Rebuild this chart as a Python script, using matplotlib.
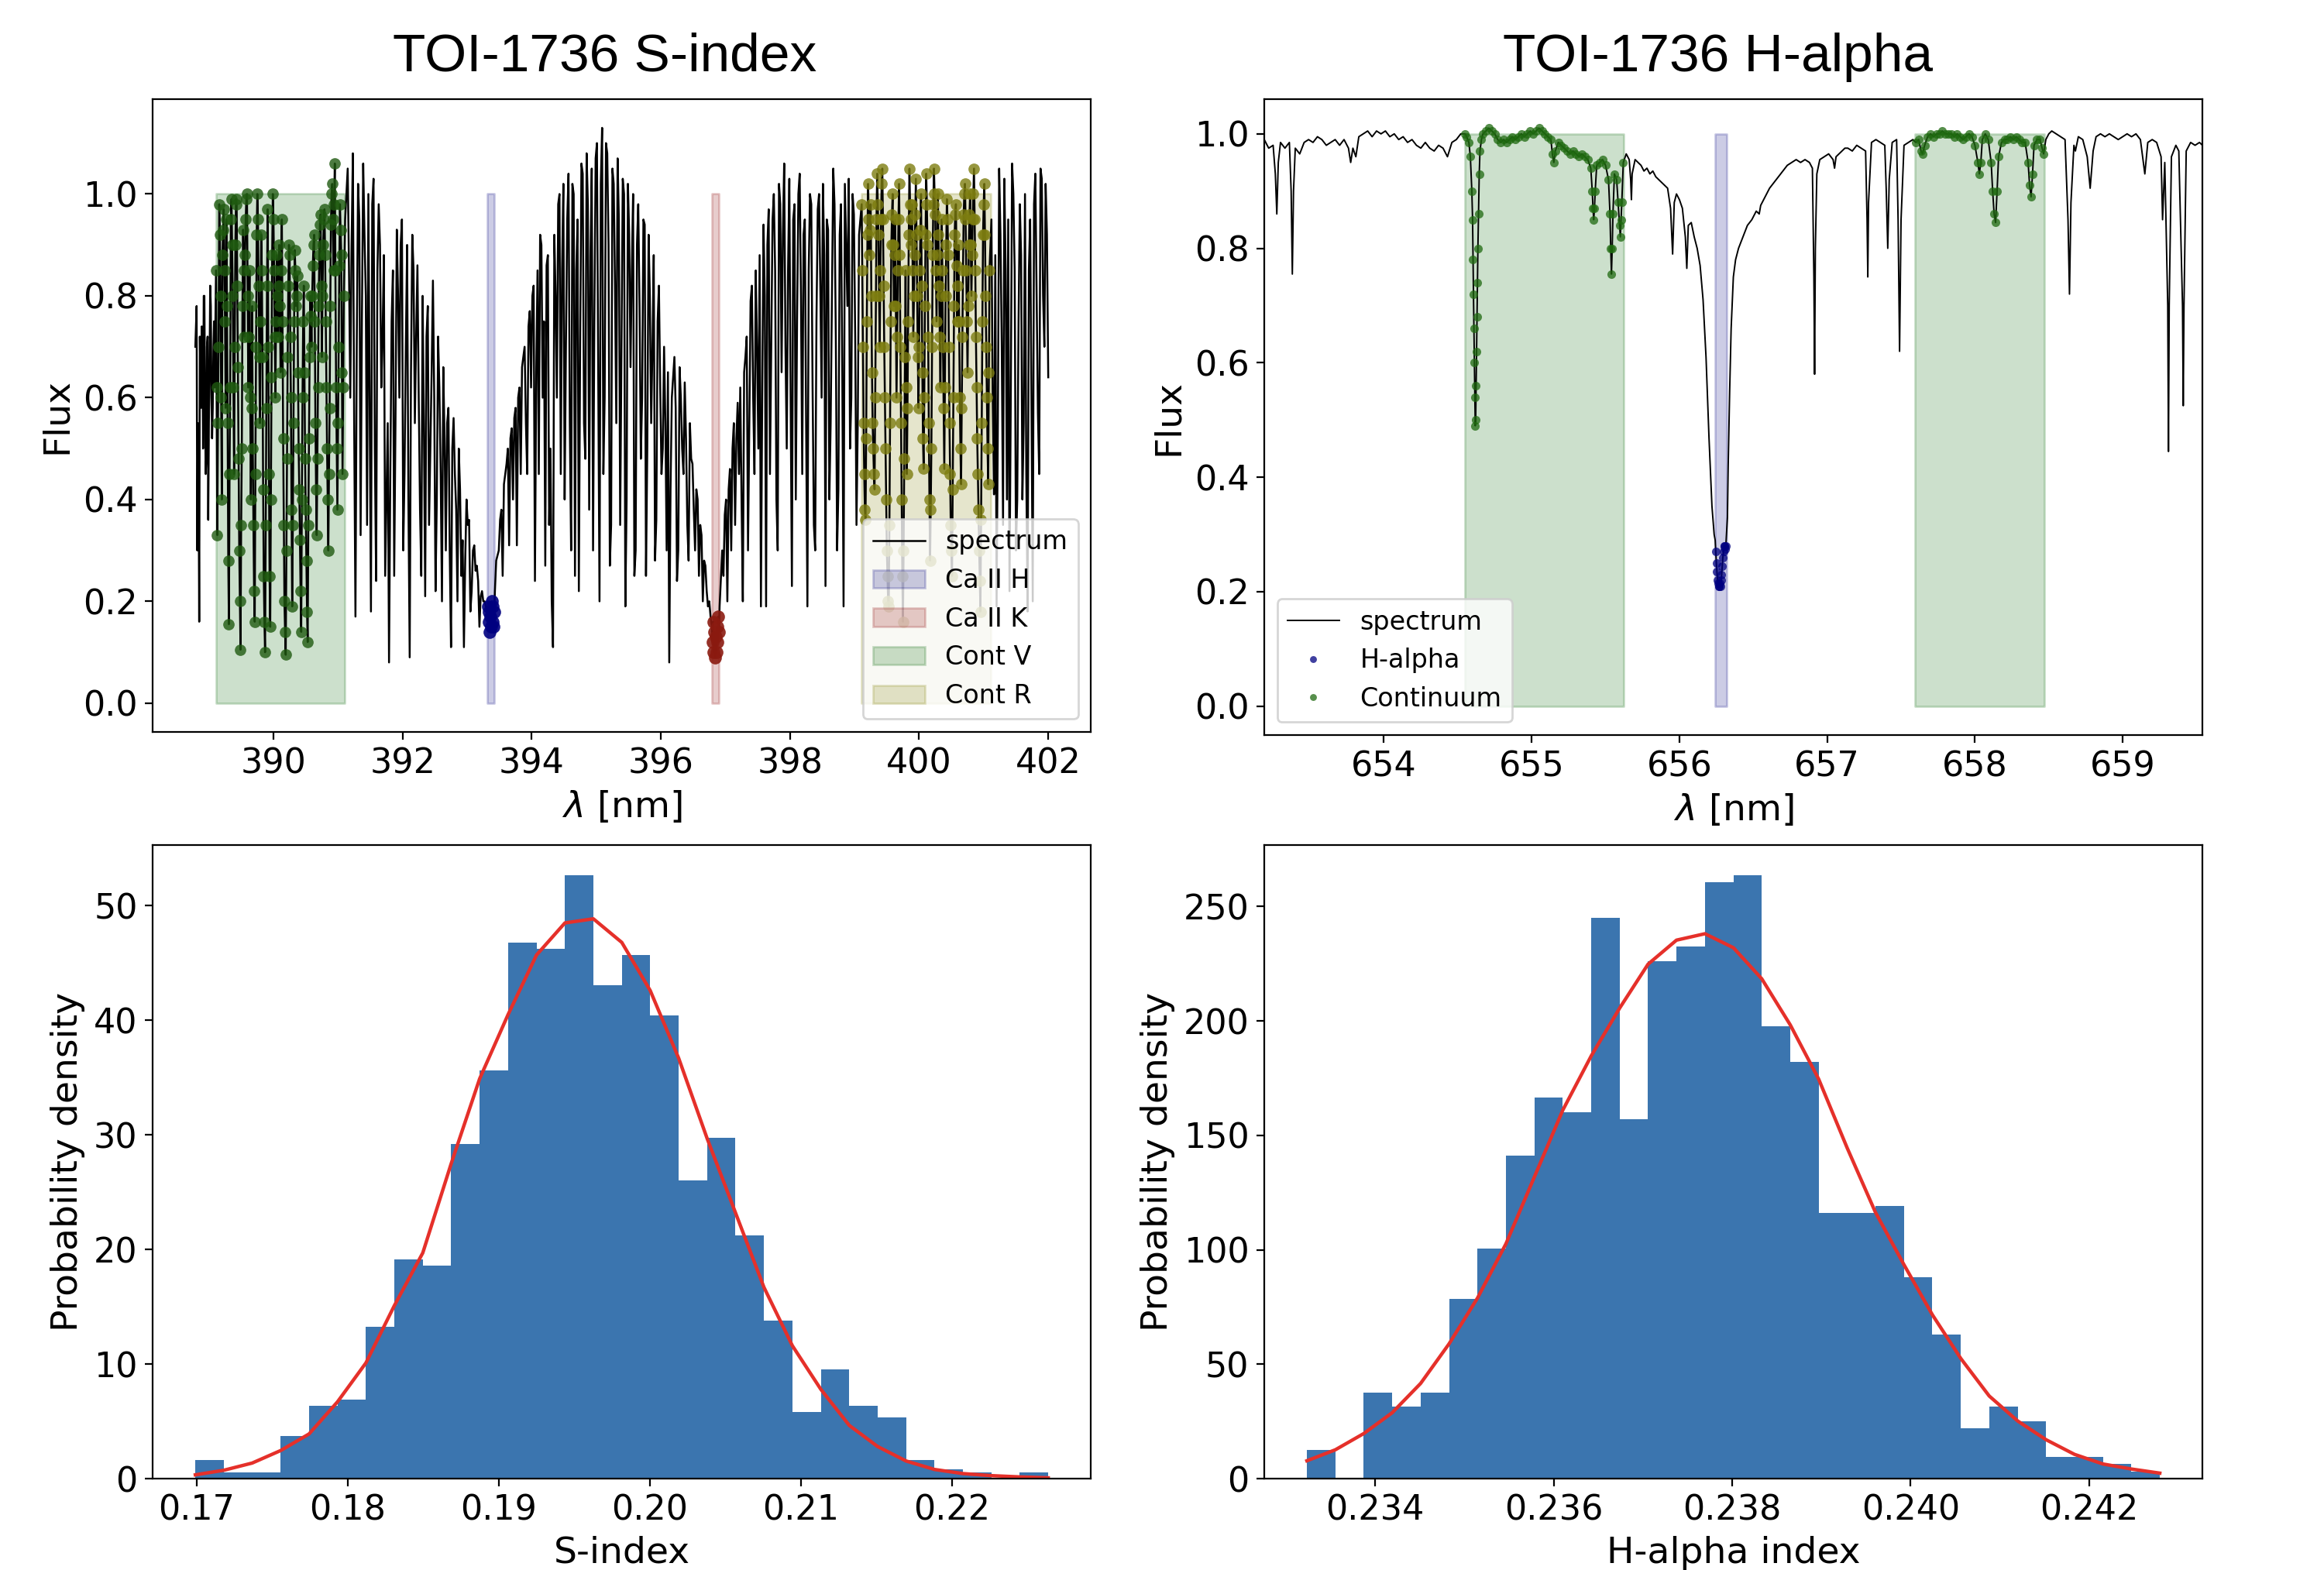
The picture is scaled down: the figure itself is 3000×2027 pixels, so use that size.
import numpy as np
import matplotlib
matplotlib.use("Agg")
import matplotlib.pyplot as plt

# ---------------- Ca II H&K spectrum (TOI-1736), segments: (start nm, step nm, flux) ----------------
CAHK_A = (388.79, 0.02, [0.70, 0.78, 0.55, 0.16, 0.62, 0.74, 0.50, 0.80, 0.45, 0.70, 0.36, 0.65, 0.78, 0.52,
                         0.70, 0.62])
CAHK_A2 = (388.80, 0.02, [0.74, 0.30, 0.45, 0.72, 0.58, 0.68, 0.80, 0.60, 0.48, 0.72, 0.55, 0.82, 0.60, 0.58,
                          0.75])
CAHK_V = (389.11, 0.02, [0.85, 0.33, 0.70, 0.92, 0.60, 0.88, 0.97, 0.75, 0.95, 0.55, 0.155, 0.62, 0.99, 0.80,
                         0.45, 0.90, 0.98, 0.66, 0.30, 0.105, 0.50, 0.93, 0.72, 0.95, 1.00, 0.62, 0.85, 0.40,
                         0.78, 0.35, 0.16, 0.70, 1.00, 0.82, 0.55, 0.92, 0.68, 0.25, 0.10, 0.58, 0.97, 0.45,
                         0.15, 0.64, 1.00, 0.85, 0.60, 0.88, 0.72, 0.90, 0.65, 0.95, 0.52, 0.20, 0.095, 0.48,
                         0.82, 0.88, 0.60, 0.19, 0.55, 0.89, 0.78, 0.84, 0.50, 0.32, 0.14, 0.60, 0.82, 0.48,
                         0.28, 0.12, 0.52, 0.80, 0.70, 0.86, 0.92, 0.55, 0.33, 0.62, 0.88, 0.96, 0.68, 0.90,
                         0.97, 0.75, 0.50, 0.30, 0.58, 0.94, 1.02, 0.85, 1.06, 0.62, 0.38, 0.70, 0.98, 0.88,
                         0.45, 0.80])
CAHK_V2 = (389.12, 0.02, [0.62, 0.55, 0.98, 0.80, 0.40, 0.93, 0.85, 0.58, 0.78, 0.28, 0.45, 0.95, 0.90, 0.62,
                          0.70, 0.99, 0.82, 0.48, 0.20, 0.35, 0.78, 0.85, 0.88, 0.99, 0.80, 0.72, 0.60, 0.58,
                          0.50, 0.22, 0.45, 0.92, 0.95, 0.68, 0.75, 0.85, 0.42, 0.16, 0.35, 0.82, 0.70, 0.25,
                          0.40, 0.88, 0.95, 0.72, 0.75, 0.80, 0.82, 0.78, 0.85, 0.75, 0.35, 0.14, 0.30, 0.68,
                          0.90, 0.72, 0.38, 0.35, 0.75, 0.85, 0.80, 0.65, 0.42, 0.22, 0.40, 0.75, 0.65, 0.38,
                          0.18, 0.35, 0.68, 0.76, 0.80, 0.90, 0.75, 0.42, 0.48, 0.78, 0.94, 0.82, 0.80, 0.95,
                          0.88, 0.62, 0.40, 0.45, 0.78, 1.00, 0.95, 0.98, 0.85, 0.50, 0.55, 0.86, 0.93, 0.65,
                          0.62])
CAHK_B = (391.11, 0.04, [0.95, 1.05, 0.60, 1.08, 0.17, 1.02, 0.33, 1.06, 0.80, 1.00, 0.18, 1.03, 0.24, 0.98,
                         0.62, 0.88, 0.40, 0.08, 0.75, 0.25, 0.93, 0.60, 0.95, 0.45, 0.90, 0.09, 0.92, 0.55,
                         0.86, 0.38, 0.80, 0.21, 0.78, 0.50, 0.83, 0.22, 0.72, 0.45, 0.66, 0.30, 0.58, 0.11,
                         0.56, 0.38, 0.50, 0.25, 0.11, 0.40, 0.36, 0.22, 0.31, 0.27, 0.15, 0.22, 0.20])
CAHK_B2 = (391.13, 0.04, [1.00, 0.85, 0.90, 0.55, 0.70, 0.95, 0.75, 0.92, 0.35, 0.60, 0.98, 0.50, 0.85, 0.90,
                          0.72, 0.25, 0.55, 0.45, 0.85, 0.55, 0.80, 0.90, 0.30, 0.70, 0.40, 0.65, 0.85, 0.72,
                          0.60, 0.25, 0.55, 0.72, 0.35, 0.65, 0.60, 0.40, 0.62, 0.20, 0.52, 0.55, 0.30, 0.50,
                          0.45, 0.20, 0.42, 0.32, 0.28, 0.35, 0.18, 0.30, 0.26, 0.24, 0.21, 0.20])
CAHK_H = (393.29, 0.01, [0.19, 0.18, 0.17, 0.19, 0.16, 0.18, 0.14, 0.17, 0.15, 0.20, 0.16, 0.19, 0.15, 0.18,
                         0.22, 0.25, 0.28])
CAHK_C = (393.49, 0.04, [0.30, 0.38, 0.43, 0.47, 0.31, 0.54, 0.56, 0.31, 0.62, 0.66, 0.70, 0.45, 0.77, 0.80,
                         0.24, 0.85, 0.92, 0.60, 0.27, 0.88, 0.50, 0.11, 0.80, 0.98, 0.45, 1.02, 0.70, 1.04,
                         0.30, 1.00, 0.85, 0.22, 1.06, 0.55, 1.08, 0.38, 1.05, 0.75, 1.10, 0.20, 1.13, 0.60,
                         1.08, 0.27, 1.05, 0.82, 1.07, 0.35, 1.03, 0.19, 1.02, 0.66, 1.00, 0.30, 0.98, 0.48,
                         0.95, 0.25, 0.92, 0.55, 0.88, 0.36, 0.82, 0.45, 0.70, 0.30, 0.08, 0.60, 0.68, 0.24,
                         0.66, 0.50, 0.63, 0.35, 0.55, 0.47, 0.30, 0.40, 0.35, 0.20, 0.27, 0.19, 0.17])
CAHK_C2 = (393.51, 0.04, [0.36, 0.25, 0.45, 0.50, 0.52, 0.40, 0.58, 0.60, 0.45, 0.68, 0.55, 0.74, 0.62, 0.82,
                          0.65, 0.45, 0.90, 0.75, 0.86, 0.35, 0.20, 0.92, 0.60, 1.00, 0.85, 0.40, 0.95, 0.55,
                          1.02, 0.25, 0.95, 0.70, 1.04, 0.48, 0.98, 0.88, 0.30, 1.07, 0.65, 1.02, 0.45, 1.10,
                          0.90, 0.35, 1.02, 0.55, 0.95, 0.70, 1.00, 0.40, 0.92, 0.85, 0.25, 0.90, 0.78, 0.60,
                          0.94, 0.50, 0.80, 0.70, 0.28, 0.75, 0.62, 0.50, 0.55, 0.65, 0.42, 0.64, 0.58, 0.30,
                          0.60, 0.45, 0.52, 0.28, 0.48, 0.38, 0.42, 0.25, 0.33, 0.28, 0.22, 0.20])
CAHK_K = (396.79, 0.01, [0.15, 0.12, 0.16, 0.10, 0.14, 0.09, 0.13, 0.10, 0.15, 0.12, 0.17, 0.14, 0.19])
CAHK_D = (396.95, 0.04, [0.30, 0.37, 0.20, 0.46, 0.50, 0.35, 0.59, 0.62, 0.20, 0.68, 0.30, 0.79, 0.60, 0.85,
                         0.50, 0.19, 0.94, 0.19, 0.97, 0.70, 1.00, 0.40, 1.02, 0.65, 1.06, 0.50, 1.03, 0.23,
                         0.98, 0.75, 1.04, 0.45, 0.95, 0.19, 1.00, 0.62, 0.30, 0.97, 0.82, 1.02, 0.23, 0.93,
                         0.55, 1.05, 0.72, 0.42, 0.98, 0.19, 0.90, 1.03, 0.60, 0.96, 0.35, 0.92])
CAHK_D2 = (396.97, 0.04, [0.25, 0.40, 0.42, 0.30, 0.55, 0.52, 0.45, 0.40, 0.65, 0.72, 0.55, 0.82, 0.45, 0.70,
                          0.88, 0.60, 0.80, 0.90, 0.45, 0.95, 0.85, 0.30, 0.98, 0.92, 0.70, 0.85, 0.60, 0.95,
                          0.40, 1.00, 0.80, 0.92, 0.55, 0.85, 0.98, 0.35, 0.75, 1.00, 0.60, 0.88, 0.95, 0.40,
                          0.80, 0.98, 0.30, 0.92, 0.65, 1.02, 0.78, 0.50, 1.00, 0.72, 0.55])
CAHK_R = (399.11, 0.02, [0.98, 0.70, 0.45, 0.36, 0.75, 1.02, 0.88, 0.98, 0.65, 0.50, 0.42, 0.80, 1.04, 0.92,
                         0.70, 0.95, 1.05, 0.82, 0.60, 0.40, 0.25, 0.19, 0.55, 0.90, 1.00, 0.78, 0.95, 0.60,
                         0.85, 1.02, 0.70, 0.40, 0.16, 0.48, 0.85, 0.45, 0.75, 1.05, 0.90, 0.98, 0.72, 0.88,
                         1.03, 0.80, 0.58, 0.85, 1.00, 0.65, 0.46, 0.78, 1.04, 0.90, 0.55, 0.28, 0.50, 0.88,
                         1.05, 0.96, 0.75, 1.00, 0.82, 0.62, 0.95, 0.70, 0.46, 0.80, 0.99, 0.88, 0.55, 0.35,
                         0.25, 0.60, 0.92, 0.98, 0.75, 0.90, 0.60, 0.43, 0.72, 0.96, 1.02, 0.85, 0.65, 0.90,
                         1.00, 0.80, 0.95, 1.05, 0.85, 0.62, 0.45, 0.30, 0.18, 0.55, 0.92, 1.02, 0.80, 0.60,
                         0.43, 0.85])
CAHK_R2 = (399.12, 0.02, [0.85, 0.55, 0.38, 0.52, 0.92, 0.95, 0.93, 0.80, 0.55, 0.45, 0.60, 0.95, 0.98, 0.80,
                          0.85, 1.02, 0.95, 0.70, 0.50, 0.30, 0.20, 0.35, 0.75, 0.96, 0.90, 0.88, 0.78, 0.72,
                          0.95, 0.88, 0.55, 0.25, 0.30, 0.68, 0.62, 0.58, 0.92, 0.98, 0.95, 0.85, 0.80, 0.96,
                          0.92, 0.68, 0.70, 0.93, 0.82, 0.52, 0.60, 0.92, 0.98, 0.72, 0.40, 0.38, 0.70, 0.98,
                          1.00, 0.85, 0.88, 0.92, 0.72, 0.80, 0.85, 0.58, 0.62, 0.90, 0.95, 0.70, 0.45, 0.30,
                          0.42, 0.78, 0.96, 0.86, 0.82, 0.75, 0.50, 0.58, 0.85, 1.00, 0.95, 0.75, 0.78, 0.96,
                          0.90, 0.88, 1.00, 0.95, 0.72, 0.52, 0.38, 0.24, 0.36, 0.75, 0.98, 0.92, 0.70, 0.50,
                          0.65])
CAHK_E = (401.12, 0.04, [0.95, 0.41, 0.19, 1.05, 0.70, 1.03, 0.40, 0.22, 1.06, 0.85, 0.40, 0.98, 0.40, 1.00,
                         0.18, 0.95, 0.20, 1.04, 0.57, 1.05, 0.80, 1.02, 0.64])
CAHK_E2 = (401.14, 0.04, [0.60, 0.88, 0.55, 0.92, 0.35, 0.85, 0.95, 0.60, 1.00, 0.30, 0.75, 0.88, 0.55, 0.45,
                          0.85, 0.60, 0.98, 0.80, 0.45, 1.03, 0.70, 0.92])
CAHK_SEGMENTS = [CAHK_A, CAHK_A2, CAHK_V, CAHK_V2, CAHK_B, CAHK_B2, CAHK_H, CAHK_C, CAHK_C2, CAHK_K,
                 CAHK_D, CAHK_D2, CAHK_R, CAHK_R2, CAHK_E, CAHK_E2]

# bandpasses (nm): centre, half width
CA_H_BAND = (393.3663, 0.0545)
CA_K_BAND = (396.847, 0.0545)
CONT_V_BAND = (390.107, 1.0)
CONT_R_BAND = (400.107, 1.0)

# ---------------- H-alpha spectrum: (wavelength nm, flux) ----------------
HA_BLUE = [(653.19, 0.99), (653.22, 0.975), (653.25, 0.98), (653.265, 0.93), (653.275, 0.86), (653.285, 0.95),
           (653.30, 0.985), (653.33, 0.975), (653.36, 0.985), (653.372, 0.90), (653.38, 0.755), (653.388, 0.90),
           (653.40, 0.975), (653.43, 0.965), (653.46, 0.985), (653.49, 0.99), (653.52, 0.985), (653.55, 0.995),
           (653.58, 0.99), (653.61, 0.98), (653.64, 0.985), (653.67, 0.99), (653.70, 0.98), (653.73, 0.99),
           (653.76, 0.975), (653.775, 0.95), (653.79, 0.975), (653.81, 0.96), (653.83, 0.995), (653.86, 1.0),
           (653.89, 1.005), (653.92, 0.995), (653.95, 1.005), (653.98, 1.0), (654.01, 1.005), (654.04, 0.995),
           (654.07, 1.0), (654.10, 0.99), (654.13, 0.995), (654.16, 0.985), (654.19, 0.99), (654.22, 0.98),
           (654.25, 0.975), (654.28, 0.985), (654.31, 0.975), (654.34, 0.97), (654.37, 0.98), (654.40, 0.975),
           (654.43, 0.96), (654.46, 0.985), (654.49, 0.99), (654.52, 1.0)]
HA_WIN1 = [(654.55, 1.0), (654.56, 0.995), (654.575, 0.985), (654.585, 0.96), (654.595, 0.90), (654.60, 0.85),
           (654.603, 0.78), (654.606, 0.72), (654.609, 0.66), (654.612, 0.60), (654.615, 0.54), (654.618, 0.49),
           (654.621, 0.50), (654.624, 0.56), (654.627, 0.62), (654.630, 0.68), (654.633, 0.74), (654.636, 0.80),
           (654.64, 0.86), (654.645, 0.93), (654.65, 0.97), (654.66, 0.99), (654.67, 1.0), (654.69, 1.005),
           (654.71, 1.01), (654.73, 1.005), (654.75, 1.0), (654.77, 0.99), (654.79, 0.985), (654.81, 0.99),
           (654.83, 0.985), (654.85, 0.99), (654.87, 0.995), (654.89, 0.99), (654.91, 0.995), (654.93, 1.0),
           (654.95, 0.995), (654.97, 1.0), (654.99, 1.005), (655.01, 1.0), (655.03, 1.005), (655.05, 1.01),
           (655.07, 1.005), (655.09, 1.0), (655.11, 0.995), (655.13, 0.99), (655.14, 0.965), (655.15, 0.95),
           (655.16, 0.97), (655.18, 0.985), (655.20, 0.98), (655.22, 0.975), (655.24, 0.97), (655.26, 0.965),
           (655.28, 0.97), (655.30, 0.965), (655.32, 0.96), (655.34, 0.965), (655.36, 0.96), (655.38, 0.955),
           (655.40, 0.94), (655.41, 0.90), (655.415, 0.87), (655.42, 0.85), (655.425, 0.87), (655.43, 0.90),
           (655.44, 0.945), (655.46, 0.95), (655.48, 0.955), (655.50, 0.945), (655.52, 0.92), (655.53, 0.86),
           (655.535, 0.80), (655.54, 0.755), (655.545, 0.80), (655.55, 0.86), (655.56, 0.93), (655.575, 0.92),
           (655.585, 0.88), (655.595, 0.84), (655.60, 0.82), (655.605, 0.85), (655.61, 0.88), (655.62, 0.95)]
HA_MID = [(655.64, 0.965), (655.66, 0.955), (655.67, 0.92), (655.675, 0.885), (655.68, 0.93), (655.70, 0.955),
          (655.72, 0.95), (655.74, 0.945), (655.76, 0.935), (655.78, 0.94), (655.80, 0.93), (655.82, 0.935),
          (655.84, 0.925), (655.86, 0.92), (655.88, 0.915), (655.90, 0.91), (655.92, 0.905), (655.94, 0.87),
          (655.954, 0.79), (655.965, 0.88), (655.98, 0.895), (656.00, 0.885), (656.02, 0.87), (656.04, 0.82),
          (656.05, 0.765), (656.06, 0.84), (656.08, 0.845), (656.10, 0.82), (656.12, 0.80), (656.14, 0.77),
          (656.16, 0.71), (656.18, 0.61), (656.20, 0.47), (656.22, 0.35), (656.235, 0.30)]
HA_CORE = [(656.242, 0.29), (656.246, 0.27), (656.250, 0.25), (656.254, 0.235), (656.258, 0.22), (656.262, 0.215),
           (656.266, 0.21), (656.270, 0.21), (656.274, 0.215), (656.278, 0.21), (656.282, 0.22), (656.286, 0.23),
           (656.290, 0.245), (656.294, 0.26), (656.298, 0.27), (656.302, 0.28), (656.306, 0.28), (656.310, 0.275),
           (656.314, 0.28)]
HA_RED = [(656.325, 0.33), (656.33, 0.42), (656.34, 0.55), (656.35, 0.66), (656.365, 0.75), (656.38, 0.78),
          (656.40, 0.80), (656.43, 0.82), (656.46, 0.84), (656.49, 0.85), (656.52, 0.865), (656.54, 0.86),
          (656.55, 0.875), (656.58, 0.89), (656.61, 0.905), (656.64, 0.915), (656.67, 0.925), (656.70, 0.935),
          (656.73, 0.945), (656.76, 0.95), (656.79, 0.955), (656.82, 0.95), (656.85, 0.955), (656.88, 0.95),
          (656.90, 0.94), (656.91, 0.75), (656.915, 0.58), (656.92, 0.80), (656.93, 0.93), (656.95, 0.955),
          (656.98, 0.96), (657.01, 0.965), (657.04, 0.955), (657.05, 0.94), (657.06, 0.96), (657.08, 0.965),
          (657.10, 0.97), (657.12, 0.975), (657.14, 0.975), (657.17, 0.97), (657.20, 0.98), (657.23, 0.975),
          (657.26, 0.97), (657.27, 0.85), (657.275, 0.75), (657.28, 0.88), (657.30, 0.985), (657.33, 0.99),
          (657.36, 0.985), (657.39, 0.98), (657.40, 0.90), (657.41, 0.80), (657.42, 0.92), (657.44, 0.985),
          (657.47, 0.99), (657.48, 0.85), (657.49, 0.62), (657.50, 0.85), (657.52, 0.98), (657.55, 0.985),
          (657.58, 0.99)]
HA_WIN2 = [(657.60, 0.985), (657.62, 0.99), (657.635, 0.97), (657.645, 0.965), (657.66, 0.98), (657.68, 0.995),
           (657.70, 1.0), (657.72, 0.995), (657.74, 1.0), (657.76, 1.0), (657.78, 1.005), (657.80, 1.0),
           (657.82, 1.0), (657.84, 1.0), (657.86, 0.995), (657.88, 1.0), (657.90, 0.995), (657.92, 0.99),
           (657.94, 0.995), (657.96, 1.0), (657.98, 0.995), (658.00, 0.98), (658.02, 0.95), (658.03, 0.93),
           (658.04, 0.95), (658.05, 0.99), (658.07, 1.0), (658.09, 0.99), (658.11, 0.95), (658.12, 0.90),
           (658.13, 0.86), (658.14, 0.845), (658.15, 0.90), (658.16, 0.96), (658.18, 0.985), (658.20, 0.99),
           (658.22, 0.99), (658.24, 0.995), (658.26, 0.99), (658.28, 0.995), (658.30, 0.99), (658.32, 0.985),
           (658.34, 0.985), (658.36, 0.95), (658.37, 0.91), (658.38, 0.89), (658.39, 0.93), (658.40, 0.98),
           (658.42, 0.99), (658.44, 0.99), (658.455, 0.975), (658.465, 0.965)]
HA_TAIL = [(658.48, 0.99), (658.50, 1.0), (658.52, 1.005), (658.55, 1.0), (658.58, 0.995), (658.61, 0.99),
           (658.63, 0.85), (658.64, 0.72), (658.65, 0.88), (658.67, 0.98), (658.68, 0.97), (658.70, 0.995),
           (658.73, 0.99), (658.76, 0.96), (658.78, 0.905), (658.80, 0.97), (658.82, 0.995), (658.85, 1.0),
           (658.88, 0.995), (658.91, 1.0), (658.94, 0.995), (658.97, 0.99), (659.00, 0.995), (659.03, 1.0),
           (659.06, 0.995), (659.09, 1.0), (659.12, 0.99), (659.15, 0.93), (659.17, 0.985), (659.20, 0.99),
           (659.23, 0.985), (659.26, 0.96), (659.27, 0.85), (659.285, 0.95), (659.305, 0.70), (659.31, 0.445),
           (659.315, 0.70), (659.33, 0.96), (659.36, 0.98), (659.38, 0.97), (659.405, 0.70), (659.41, 0.525),
           (659.415, 0.70), (659.43, 0.97), (659.46, 0.985), (659.49, 0.98), (659.52, 0.985), (659.54, 0.98)]
HA_SEGMENTS = [HA_BLUE, HA_WIN1, HA_MID, HA_CORE, HA_RED, HA_WIN2, HA_TAIL]

HALPHA_BAND = (656.2808, 0.038)
HA_CONT1_BAND = (655.087, 0.5375)
HA_CONT2_BAND = (658.031, 0.4375)

# ---------------- S-index posterior histogram ----------------
S_RANGE = (0.16992, 0.22638)
S_DENSITY = [1.61, 0.55, 0.55, 3.74, 6.37, 6.89, 13.22, 19.12, 18.61, 29.19, 35.64, 46.78, 46.23, 52.67, 43.04,
             45.71, 40.40, 26.04, 29.74, 21.25, 13.77, 5.82, 9.52, 6.37, 5.31, 1.61, 0.81, 0.55, 0.0, 0.55]
S_FIT = [0.33, 0.73, 1.36, 2.45, 3.9, 6.7, 10.1, 15.1, 19.7, 27.5, 34.9, 40.5, 45.7, 48.5, 48.86, 46.8, 42.6,
         36.7, 29.7, 23.2, 16.7, 11.6, 7.8, 4.65, 2.8, 1.54, 0.8, 0.44, 0.26, 0.15, 0.07]

# ---------------- H-alpha index posterior histogram ----------------
H_RANGE = (0.233235, 0.242792)
H_DENSITY = [12.6, 0.0, 37.7, 31.4, 37.7, 78.5, 100.5, 141.3, 166.4, 160.1, 244.9, 157.0, 226.1, 232.4, 260.6,
             263.7, 197.8, 182.1, 116.2, 116.2, 119.3, 87.9, 62.8, 22.0, 31.4, 25.1, 9.4, 9.4, 6.3, 3.1]
H_FIT = [7.8, 12.6, 19.7, 28.8, 41.6, 58.9, 78.9, 102.6, 131.8, 161.0, 184.7, 205.6, 224.8, 235.3, 238.1, 232.0,
         218.4, 198.3, 174.6, 144.6, 116.3, 93.5, 71.6, 52.5, 36.1, 25.2, 17.0, 10.6, 6.4, 4.2, 2.4]

# ---------------- styling ----------------
TICK_FS = 16
LABEL_FS = 17
LEGEND_FS = 12
HIST_COLOR = "#3b75af"
FIT_COLOR = "#e5302a"

fig = plt.figure(figsize=(15, 10.135), dpi=200)
ax1 = fig.add_axes([0.0657, 0.5338, 0.4037, 0.4031])
ax2 = fig.add_axes([0.5440, 0.5318, 0.4037, 0.4050])
ax3 = fig.add_axes([0.0657, 0.0582, 0.4037, 0.4036])
ax4 = fig.add_axes([0.5440, 0.0582, 0.4037, 0.4036])

# ---- Ca II H&K panel ----
wl_parts, fl_parts = [], []
for start, step, flux in CAHK_SEGMENTS:
    wl_parts.append(start + step * np.arange(len(flux)))
    fl_parts.append(np.asarray(flux, dtype=float))
wl1 = np.concatenate(wl_parts)
fl1 = np.concatenate(fl_parts)
order = np.argsort(wl1, kind="stable")
wl1, fl1 = wl1[order], fl1[order]


def in_band(w, band):
    c, h = band
    return np.abs(w - c) <= h + 1e-9


ax1.plot(wl1, fl1, color="black", lw=0.9, label="spectrum", zorder=2)
span_specs = [(CA_H_BAND, "navy", "Ca II H"), (CA_K_BAND, "darkred", "Ca II K"),
              (CONT_V_BAND, "darkgreen", "Cont V"), (CONT_R_BAND, "olive", "Cont R")]
for band, col, lab in span_specs:
    c, h = band
    ax1.fill_between([c - h, c + h], 0, 1, color=col, alpha=0.2, label=lab, zorder=1)
dot_specs = [(CONT_V_BAND, "#1f5a10", 0.8, 5.3), (CONT_R_BAND, "#7d7d10", 0.8, 5.3),
             (CA_H_BAND, "navy", 0.9, 6.0), (CA_K_BAND, "#8b1a10", 0.9, 6.0)]
for band, col, a, ms in dot_specs:
    m = in_band(wl1, band)
    ax1.plot(wl1[m], fl1[m], "o", color=col, alpha=a, ms=ms, mec="none", zorder=3)
ax1.set_xlabel(r"$\lambda$ [nm]", fontsize=LABEL_FS)
ax1.set_ylabel("Flux", fontsize=LABEL_FS)
ax1.legend(loc="lower right", fontsize=LEGEND_FS)

# ---- H-alpha panel ----
ha = np.concatenate([np.array(seg, dtype=float) for seg in HA_SEGMENTS])
wl2, fl2 = ha[:, 0], ha[:, 1]
ax2.plot(wl2, fl2, color="black", lw=0.7, label="spectrum", zorder=2)
for band, col in [(HALPHA_BAND, "navy"), (HA_CONT1_BAND, "darkgreen"), (HA_CONT2_BAND, "darkgreen")]:
    c, h = band
    ax2.fill_between([c - h, c + h], 0, 1, color=col, alpha=0.2, zorder=1)
m_h = in_band(wl2, HALPHA_BAND)
m_c = in_band(wl2, HA_CONT1_BAND) | in_band(wl2, HA_CONT2_BAND)
ax2.plot(wl2[m_h], fl2[m_h], "o", color="navy", alpha=0.75, ms=4.0, mec="none", label="H-alpha", zorder=3)
ax2.plot(wl2[m_c], fl2[m_c], "o", color="#1f6a10", alpha=0.75, ms=4.0, mec="none", label="Continuum", zorder=3)
ax2.set_xlim(wl2.min(), wl2.max())
ax2.set_xlabel(r"$\lambda$ [nm]", fontsize=LABEL_FS)
ax2.set_ylabel("Flux", fontsize=LABEL_FS)
ax2.legend(loc="lower left", fontsize=LEGEND_FS, markerscale=0.8)

# ---- histograms ----
for ax, rng, dens, fit, xlabel in [(ax3, S_RANGE, S_DENSITY, S_FIT, "S-index"),
                                   (ax4, H_RANGE, H_DENSITY, H_FIT, "H-alpha index")]:
    edges = np.linspace(rng[0], rng[1], len(dens) + 1)
    ax.bar(edges[:-1], dens, width=np.diff(edges), align="edge", color=HIST_COLOR, linewidth=0)
    ax.plot(edges, fit, color=FIT_COLOR, lw=1.6)
    ax.set_xlabel(xlabel, fontsize=LABEL_FS)
    ax.set_ylabel("Probability density", fontsize=LABEL_FS)

for ax in (ax1, ax2, ax3, ax4):
    ax.tick_params(labelsize=TICK_FS)

fig.text(0.2602, 0.9547, "TOI-1736 S-index", ha="center", va="baseline",
         fontsize=25, family=["Liberation Sans", "DejaVu Sans"])
fig.text(0.7392, 0.9547, "TOI-1736 H-alpha", ha="center", va="baseline",
         fontsize=25, family=["Liberation Sans", "DejaVu Sans"])

fig.savefig("out.png", dpi=200)
